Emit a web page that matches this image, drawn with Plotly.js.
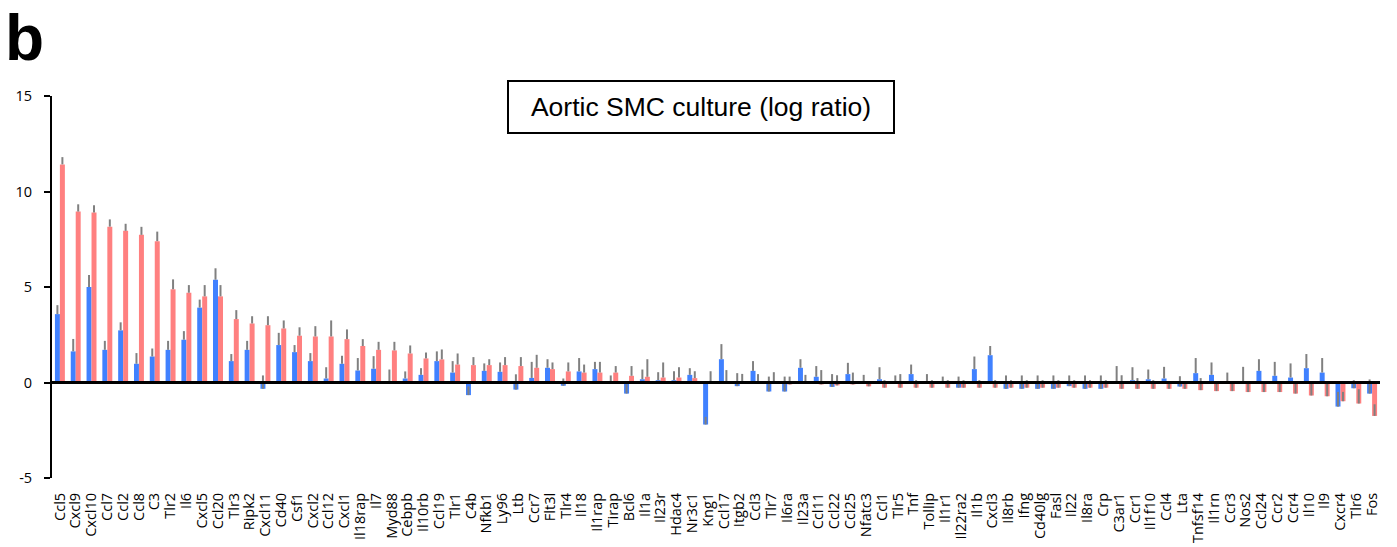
<!DOCTYPE html>
<html>
<head>
<meta charset="utf-8">
<script src="https://cdn.plot.ly/plotly-3.0.1.min.js"></script>
<style>
  html, body { margin: 0; padding: 0; background: #ffffff; }
  #chart { width: 1397px; height: 547px; }
</style>
</head>
<body>
<div id="chart"></div>
<script>
// Gene names along the x axis
const genes = [
  "Ccl5","Cxcl9","Cxcl10","Ccl7","Ccl2","Ccl8","C3","Tlr2","Il6","Cxcl5",
  "Ccl20","Tlr3","Ripk2","Cxcl11","Cd40","Csf1","Cxcl2","Ccl12","Cxcl1","Il18rap",
  "Il7","Myd88","Cebpb","Il10rb","Ccl19","Tlr1","C4b","Nfkb1","Ly96","Ltb",
  "Ccr7","Flt3l","Tlr4","Il18","Il1rap","Tirap","Bcl6","Il1a","Il23r","Hdac4",
  "Nr3c1","Kng1","Ccl17","Itgb2","Ccl3","Tlr7","Il6ra","Il23a","Ccl11","Ccl22",
  "Ccl25","Nfatc3","Ccl1","Tlr5","Tnf","Tollip","Il1r1","Il22ra2","Il1b","Cxcl3",
  "Il8rb","Ifng","Cd40lg","Fasl","Il22","Il8ra","Crp","C3ar1","Ccr1","Il1f10",
  "Ccl4","Lta","Tnfsf14","Il1rn","Ccr3","Nos2","Ccl24","Ccr2","Ccr4","Il10",
  "Il9","Cxcr4","Tlr6","Fos"
];

// Log ratios, first condition (blue)
const logRatioBlue = [
  3.58, 1.63, 5.00, 1.71, 2.73, 0.98, 1.36, 1.71, 2.24, 3.92,
  5.38, 1.12, 1.71, -0.33, 1.96, 1.59, 1.12, 0.21, 0.98, 0.63,
  0.72, 0.02, 0.21, 0.40, 1.12, 0.52, -0.66, 0.61, 0.56, -0.37,
  0.24, 0.77, -0.17, 0.58, 0.70, 0.00, -0.58, 0.17, 0.12, 0.12,
  0.40, -2.20, 1.22, -0.19, 0.61, -0.47, -0.47, 0.77, 0.30, -0.23,
  0.44, 0.00, 0.17, 0.00, 0.44, 0.00, 0.00, -0.27, 0.70, 1.43,
  -0.33, -0.33, -0.33, -0.33, -0.19, -0.33, -0.33, 0.00, 0.12, 0.17,
  0.21, -0.21, 0.49, 0.40, 0.00, -0.05, 0.61, 0.35, 0.26, 0.75,
  0.52, -1.26, -0.30, -0.58
];

// Upper error for the blue series
const errBlue = [
  0.47, 0.65, 0.63, 0.47, 0.42, 0.56, 0.42, 0.47, 0.45, 0.42,
  0.60, 0.37, 0.47, 0.70, 0.64, 0.37, 0.42, 0.59, 0.42, 0.65,
  0.66, 0.66, 0.37, 0.35, 0.51, 0.60, 0.45, 0.39, 0.49, 0.80,
  0.84, 0.45, 0.38, 0.70, 0.38, 0.37, 0.48, 0.51, 0.42, 0.47,
  0.35, 0.40, 0.79, 0.68, 0.51, 0.78, 0.78, 0.45, 0.56, 0.67,
  0.59, 0.40, 0.63, 0.37, 0.50, 0.44, 0.31, 0.58, 0.66, 0.48,
  0.70, 0.70, 0.70, 0.70, 0.56, 0.70, 0.70, 0.86, 0.68, 0.51,
  0.61, 0.54, 0.79, 0.65, 0.52, 0.87, 0.61, 0.73, 0.74, 0.74,
  0.76, 0.77, 0.42, 0.74
];

// Log ratios, second condition (red)
const logRatioRed = [
  11.42, 8.95, 8.90, 8.16, 7.94, 7.73, 7.40, 4.88, 4.70, 4.51,
  4.51, 3.32, 3.09, 3.00, 2.83, 2.45, 2.41, 2.41, 2.27, 1.91,
  1.71, 1.68, 1.52, 1.26, 1.21, 0.94, 0.91, 0.91, 0.91, 0.86,
  0.77, 0.70, 0.58, 0.52, 0.52, 0.52, 0.35, 0.30, 0.26, 0.26,
  0.23, 0.02, 0.02, -0.02, 0.02, -0.05, -0.10, -0.05, -0.10, -0.15,
  -0.10, -0.20, -0.27, -0.27, -0.27, -0.27, -0.27, -0.27, -0.27, -0.27,
  -0.27, -0.27, -0.27, -0.27, -0.27, -0.27, -0.27, -0.33, -0.33, -0.33,
  -0.33, -0.33, -0.40, -0.45, -0.45, -0.50, -0.50, -0.50, -0.58, -0.68,
  -0.72, -0.98, -1.10, -1.75
];

// Upper error for the red series
const errRed = [
  0.38, 0.38, 0.38, 0.38, 0.37, 0.42, 0.50, 0.52, 0.40, 0.59,
  0.59, 0.47, 0.38, 0.47, 0.42, 0.44, 0.54, 0.84, 0.51, 0.36,
  0.42, 0.45, 0.42, 0.31, 0.52, 0.58, 0.42, 0.31, 0.42, 0.47,
  0.68, 0.35, 0.47, 0.42, 0.56, 0.34, 0.51, 0.92, 0.79, 0.54,
  0.36, 0.57, 0.63, 0.47, 0.42, 0.59, 0.41, 0.45, 0.75, 0.53,
  0.62, 0.27, 0.39, 0.71, 0.39, 0.39, 0.39, 0.39, 0.39, 0.39,
  0.39, 0.39, 0.39, 0.39, 0.39, 0.39, 0.39, 0.71, 0.56, 0.45,
  0.40, 0.40, 0.63, 0.45, 0.45, 0.57, 0.45, 0.50, 0.53, 0.63,
  0.67, 0.49, 0.75, 0.61
];

const tickFont = "'Open Sans', 'Noto Sans', sans-serif";

function barTrace(vals, errs, color) {
  return {
    type: "bar",
    x: genes,
    y: vals,
    marker: { color: color, line: { width: 0 } },
    error_y: {
      type: "data",
      symmetric: false,
      array: errs,
      arrayminus: errs.map(() => 0),
      color: "#808080",
      thickness: 2,
      width: 0
    },
    hoverinfo: "x+y",
    showlegend: false
  };
}

const data = [
  barTrace(logRatioBlue, errBlue, "#4081FF"),
  barTrace(logRatioRed, errRed, "#FF8080")
];

const layout = {
  width: 1397,
  height: 547,
  margin: { l: 52, r: 17, t: 96, b: 69 },
  paper_bgcolor: "#ffffff",
  plot_bgcolor: "#ffffff",
  barmode: "group",
  bargap: 0.37,
  bargroupgap: 0,
  xaxis: {
    type: "category",
    range: [-0.5, genes.length - 0.5],
    tickmode: "array",
    tickvals: genes,
    ticktext: genes,
    showline: false,
    showgrid: false,
    zeroline: false,
    ticks: "",
    tickangle: -90,
    ticklabelstandoff: 11,
    automargin: false,
    tickfont: { family: tickFont, size: 14.5, color: "#000000" }
  },
  yaxis: {
    range: [-5, 15],
    tickvals: [-5, 0, 5, 10, 15],
    ticktext: ["-5", "0", "5", "10", "15"],
    showline: true,
    linecolor: "#000000",
    linewidth: 2,
    ticks: "outside",
    ticklen: 6,
    tickwidth: 2,
    tickcolor: "#000000",
    ticklabelstandoff: 9,
    showgrid: false,
    zeroline: false,
    tickfont: { family: tickFont, size: 14.5, color: "#000000" }
  },
  shapes: [
    {
      type: "line", xref: "paper", yref: "y",
      x0: 0, x1: 1, y0: 0, y1: 0,
      line: { color: "#000000", width: 3 },
      layer: "above"
    }
  ],
  annotations: [
    {
      text: "Aortic SMC culture (log ratio)",
      xref: "paper", yref: "paper",
      x: 0.4887, y: 0.97,
      xanchor: "center", yanchor: "middle",
      showarrow: false,
      font: { family: "'Liberation Sans', Arial, sans-serif", size: 26.5, color: "#000000" },
      bgcolor: "#ffffff",
      bordercolor: "#000000",
      borderwidth: 2,
      borderpad: 2,
      width: 380,
      height: 46
    },
    {
      text: "<b>b</b>",
      xref: "paper", yref: "paper",
      x: -0.036, y: 1.25,
      xanchor: "left", yanchor: "top",
      showarrow: false,
      borderpad: 0,
      font: { family: "'Liberation Sans', Arial, sans-serif", size: 64, color: "#000000" }
    }
  ]
};

Plotly.newPlot("chart", data, layout, { displayModeBar: false, staticPlot: true });
</script>
</body>
</html>
